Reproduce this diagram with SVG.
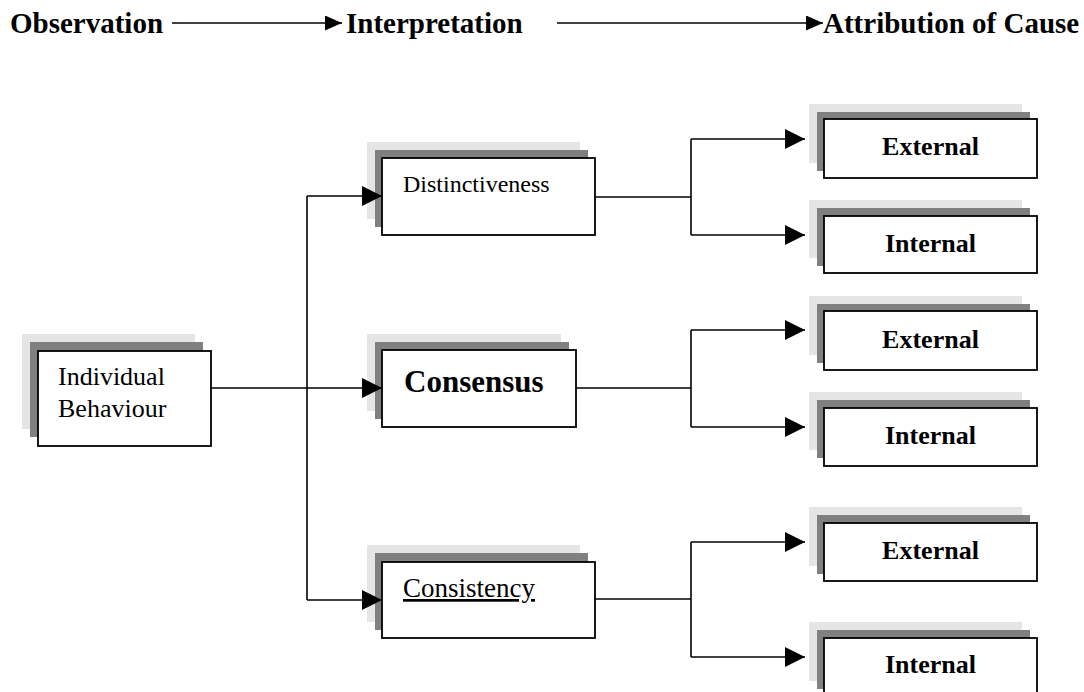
<svg xmlns="http://www.w3.org/2000/svg" width="1084" height="692" viewBox="0 0 1084 692">
<style>
text{font-family:"Liberation Serif","Times New Roman",serif;fill:#000}
.hd{font-size:29px;font-weight:bold}
.b{fill:#fff;stroke:#000;stroke-width:1.8}
.s1{fill:#e5e5e5}
.s2{fill:#808080}
.ln{fill:none;stroke:#000;stroke-width:1.6}
.bt{font-size:26px;font-weight:bold;text-anchor:middle}
</style>
<defs>
<marker id="ah" viewBox="0 0 20 20" markerWidth="20" markerHeight="20" refX="20" refY="10" orient="auto" markerUnits="userSpaceOnUse"><path d="M0,0 L20,10 L0,20 Z" fill="#000"/></marker>
<marker id="hh" viewBox="0 0 17 15" markerWidth="17" markerHeight="15" refX="17" refY="7.5" orient="auto" markerUnits="userSpaceOnUse"><path d="M0,0 L17,7.5 L0,15 Z" fill="#000"/></marker>
</defs>
<g id="header">
<text class="hd" x="10" y="33">Observation</text>
<text class="hd" x="346" y="33">Interpretation</text>
<text class="hd" x="823" y="33">Attribution of Cause</text>
</g>
<g id="individual">
<rect class="s1" x="22" y="334" width="173" height="95"/>
<rect class="s2" x="30" y="342" width="173" height="95"/>
<rect class="b" x="38" y="351" width="173" height="95"/>
<text x="58" y="385" font-size="26">Individual</text>
<text x="58" y="417" font-size="26">Behaviour</text>
</g>
<g id="distinctiveness">
<rect class="s1" x="367" y="142" width="213" height="77"/>
<rect class="s2" x="375" y="150" width="213" height="77"/>
<rect class="b" x="382" y="158" width="213" height="77"/>
<text x="403" y="192" font-size="24">Distinctiveness</text>
</g>
<g id="consensus">
<rect class="s1" x="367" y="334" width="194" height="77"/>
<rect class="s2" x="375" y="342" width="194" height="77"/>
<rect class="b" x="382" y="350" width="194" height="77"/>
<text x="404" y="392" font-size="31" font-weight="bold">Consensus</text>
</g>
<g id="consistency">
<rect class="s1" x="367" y="545" width="213" height="77"/>
<rect class="s2" x="375" y="553" width="213" height="77"/>
<rect class="b" x="382" y="562" width="213" height="76"/>
<text x="403" y="597" font-size="27" text-decoration="underline">Consistency</text>
</g>
<g id="external1">
<rect class="s1" x="809" y="104" width="213" height="59"/>
<rect class="s2" x="817" y="112" width="213" height="59"/>
<rect class="b" x="824" y="119" width="213" height="59"/>
<text class="bt" x="930.5" y="155">External</text>
</g>
<g id="internal1">
<rect class="s1" x="809" y="200" width="213" height="58"/>
<rect class="s2" x="817" y="208" width="213" height="58"/>
<rect class="b" x="824" y="216" width="213" height="57"/>
<text class="bt" x="930.5" y="252">Internal</text>
</g>
<g id="external2">
<rect class="s1" x="809" y="296" width="213" height="59"/>
<rect class="s2" x="817" y="304" width="213" height="59"/>
<rect class="b" x="824" y="311" width="213" height="59"/>
<text class="bt" x="930.5" y="348">External</text>
</g>
<g id="internal2">
<rect class="s1" x="809" y="392" width="213" height="58"/>
<rect class="s2" x="817" y="400" width="213" height="58"/>
<rect class="b" x="824" y="408" width="213" height="58"/>
<text class="bt" x="930.5" y="444">Internal</text>
</g>
<g id="external3">
<rect class="s1" x="809" y="507" width="213" height="59"/>
<rect class="s2" x="817" y="515" width="213" height="59"/>
<rect class="b" x="824" y="523" width="213" height="58"/>
<text class="bt" x="930.5" y="559">External</text>
</g>
<g id="internal3">
<rect class="s1" x="809" y="622" width="213" height="59"/>
<rect class="s2" x="817" y="630" width="213" height="59"/>
<rect class="b" x="824" y="638" width="213" height="60"/>
<text class="bt" x="930.5" y="673">Internal</text>
</g>
<g id="connectors">
<path class="ln" d="M172,23 H342" marker-end="url(#hh)"/>
<path class="ln" d="M557,23 H823" marker-end="url(#hh)"/>
<path class="ln" d="M211,388 H307"/>
<path class="ln" d="M307,196 V600"/>
<path class="ln" d="M307,196 H382" marker-end="url(#ah)"/>
<path class="ln" d="M307,388 H382" marker-end="url(#ah)"/>
<path class="ln" d="M307,600 H382" marker-end="url(#ah)"/>
<path class="ln" d="M595,197 H691"/>
<path class="ln" d="M691,139 V235"/>
<path class="ln" d="M691,139 H805" marker-end="url(#ah)"/>
<path class="ln" d="M691,235 H805" marker-end="url(#ah)"/>
<path class="ln" d="M576,388 H691"/>
<path class="ln" d="M691,330 V427"/>
<path class="ln" d="M691,330 H805" marker-end="url(#ah)"/>
<path class="ln" d="M691,427 H805" marker-end="url(#ah)"/>
<path class="ln" d="M595,599 H691"/>
<path class="ln" d="M691,542 V657"/>
<path class="ln" d="M691,542 H805" marker-end="url(#ah)"/>
<path class="ln" d="M691,657 H805" marker-end="url(#ah)"/>
</g>
</svg>
